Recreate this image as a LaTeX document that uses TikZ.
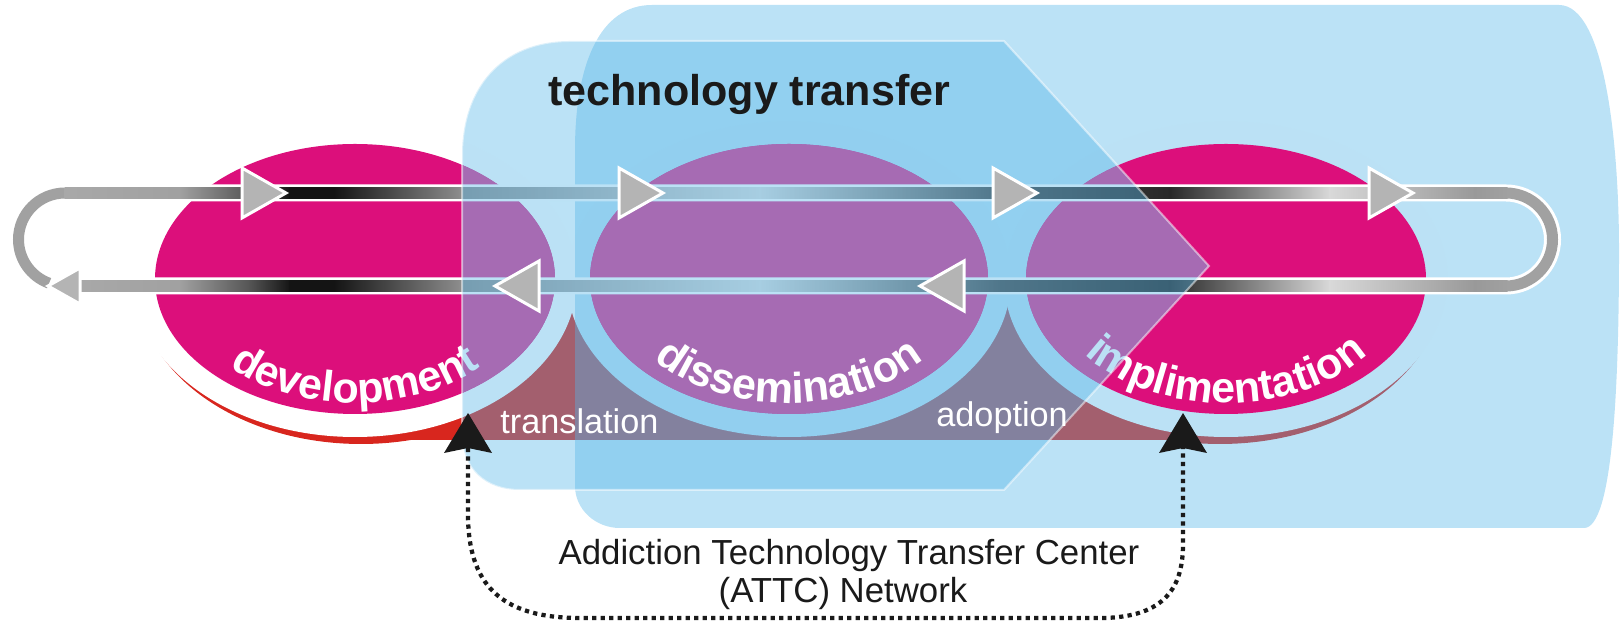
\documentclass[tikz,border=0pt]{standalone}
\usepackage{fontspec}
\setmainfont{Liberation Sans}
\usetikzlibrary{decorations.text}
\definecolor{pinkE}{RGB}{220,15,123}
\definecolor{pinkU}{RGB}{220,57,145}
\definecolor{redB}{RGB}{216,38,30}
\definecolor{skyO}{RGB}{85,182,232}
\definecolor{arrowgray}{RGB}{180,180,180}
\definecolor{darkT}{RGB}{26,26,26}
\newcommand{\curvefont}{\fontsize{24.5}{29}\selectfont\bfseries}
\newcommand{\frontpath}{(462,469) .. controls (462,535) and (500,583) .. (570,583)
  -- (1004,583) -- (1209,358) -- (1004,134) -- (520,134)
  .. controls (485,134) and (462,155) .. (462,190) -- cycle}
\tikzset{
  skyshape/.style={fill=skyO, fill opacity=0.4},
  ringfill/.style={fill=white},
  pinkfill/.style={fill=pinkE},
  barborder/.style={draw=white, line width=0.34cm},
  bararc/.style={draw=black!37, line width=0.22cm},
  grayhead/.style={fill=arrowgray, draw=white, line width=0.06cm, line join=miter},
  blackhead/.style={fill=darkT},
  dottedline/.style={draw=darkT, line width=0.085cm, dash pattern=on 0.085cm off 0.085cm},
  smalllabel/.style={font=\fontsize{19.5}{23}\selectfont, text=white, inner sep=0pt, anchor=base west},
  bottomlabel/.style={font=\fontsize{19.8}{24}\selectfont, text=darkT, inner sep=0pt, anchor=base},
}
\begin{document}
\begin{tikzpicture}[x=0.02cm, y=0.02cm]
\useasboundingbox (0,0) rectangle (1622,624);

% red band with crescents
\fill[redB] (355,184) rectangle (1226,324);
\begin{scope}
  \clip (0,0) rectangle (1622,272);
  \fill[redB] (361,340) ellipse [x radius=223, y radius=160];
  \fill[redB] (1220,340) ellipse [x radius=223, y radius=160];
\end{scope}

% white rings
\fill[ringfill] (355,345) ellipse [x radius=222, y radius=158];
\fill[ringfill] (789,345) ellipse [x radius=222, y radius=158];
\fill[ringfill] (1226,345) ellipse [x radius=222, y radius=158];

% back blue shape
\path[skyshape] (575,474) .. controls (575,560) and (600,619) .. (652,619)
  -- (1559,619) .. controls (1605,619) and (1619,480) .. (1619,374)
  .. controls (1619,230) and (1612,96) .. (1584,96)
  -- (620,96) .. controls (595,96) and (575,115) .. (575,138) -- cycle;

% pink ellipses
\fill[pinkfill] (355,345) ellipse [x radius=200, y radius=135];
\fill[pinkfill] (789,345) ellipse [x radius=199, y radius=135];
\fill[pinkfill] (1226,345) ellipse [x radius=200, y radius=135];
\begin{scope}
  \clip \frontpath;
  \fill[pinkU] (355,345) ellipse [x radius=200, y radius=135];
  \fill[pinkU] (789,345) ellipse [x radius=199, y radius=135];
  \fill[pinkU] (1226,345) ellipse [x radius=200, y radius=135];
\end{scope}

% curved labels under the front shape
\path[decorate, decoration={text along path, text align={center},
  text={|\curvefont\color{white}|development}}]
  ([shift={(355,345)}]200:178 and 124) arc[start angle=200, end angle=340, x radius=178, y radius=124];
\path[decorate, decoration={text along path, text align={center},
  text={|\curvefont\color{white}|implimentation}}]
  ([shift={(1226,345)}]200:178 and 124) arc[start angle=200, end angle=340, x radius=178, y radius=124];

% loop bars
\draw[barborder] (65,431) arc[start angle=90, end angle=250, radius=46.5];
\draw[barborder] (65,431) -- (1506,431) arc[start angle=90, end angle=-90, radius=46.5] -- (80,338);
\draw[bararc] (65,431) arc[start angle=90, end angle=250, radius=46.5];
\draw[bararc] (1506,431) arc[start angle=90, end angle=-90, radius=46.5];
\foreach \xa/\xb/\pa/\pb in {65/180/34/37, 180/250/37/67, 250/290/67/92, 290/335/92/92,
  335/460/92/45, 460/760/45/13, 760/1000/13/70, 1000/1170/70/84, 1170/1330/84/15,
  1330/1475/15/40, 1475/1507/40/37}
  {\shade[left color=black!\pa, right color=black!\pb] (\xa-0.5,425.5) rectangle (\xb+0.5,436.5);}
\foreach \xa/\xb/\pa/\pb in {80/180/34/37, 180/250/37/67, 250/290/67/92, 290/335/92/92,
  335/460/92/45, 460/760/45/13, 760/1000/13/70, 1000/1170/70/84, 1170/1330/84/15,
  1330/1475/15/40, 1475/1507/40/37}
  {\shade[left color=black!\pa, right color=black!\pb] (\xa-0.5,332.5) rectangle (\xb+0.5,343.5);}

% front blue shape
\path[skyshape, draw=white, draw opacity=0.5, line width=0.04cm] \frontpath;

% gray arrowheads
\foreach \tx in {286,663,1037,1413}
  {\filldraw[grayhead] (\tx,431) -- (\tx-44,456) -- (\tx-44,406) -- cycle;}
\foreach \tx in {495,920}
  {\filldraw[grayhead] (\tx,338) -- (\tx+44,363) -- (\tx+44,313) -- cycle;}
\filldraw[grayhead] (48,338) -- (80,356) -- (80,320) -- cycle;

% labels on top
\node[font=\fontsize{24.5}{29}\selectfont\bfseries, text=darkT, inner sep=0pt, anchor=base west]
  (tt) at (548,518) {technology transfer};
\path[decorate, decoration={text along path, text align={center},
  text={|\curvefont\color{white}|dissemination}}]
  ([shift={(789,345)}]200:178 and 124) arc[start angle=200, end angle=340, x radius=178, y radius=124];
\node[smalllabel] (trans) at (500,190) {translation};
\node[smalllabel] (adopt) at (936,197) {adoption};
\node[bottomlabel] (attcA) at (849,59) {Addiction Technology Transfer Center};
\node[bottomlabel] (attcB) at (843,21) {(ATTC) Network};

% dotted connector and black arrowheads
\coordinate (devtip) at (468,211);
\coordinate (devbase) at (468,176);
\coordinate (imptip) at (1183,211);
\coordinate (impbase) at (1183,176);
\draw[dottedline] (devbase) -- (468,110) .. controls (468,40) and (500,6) .. (580,6)
  -- (1100,6) .. controls (1168,6) and (1183,40) .. (1183,80) -- (impbase);
\fill[blackhead] (devtip) -- ++(-24,-40) -- ++(24,5) -- ++(24,-5) -- cycle;
\fill[blackhead] (imptip) -- ++(-24,-40) -- ++(24,5) -- ++(24,-5) -- cycle;
\end{tikzpicture}
\end{document}
